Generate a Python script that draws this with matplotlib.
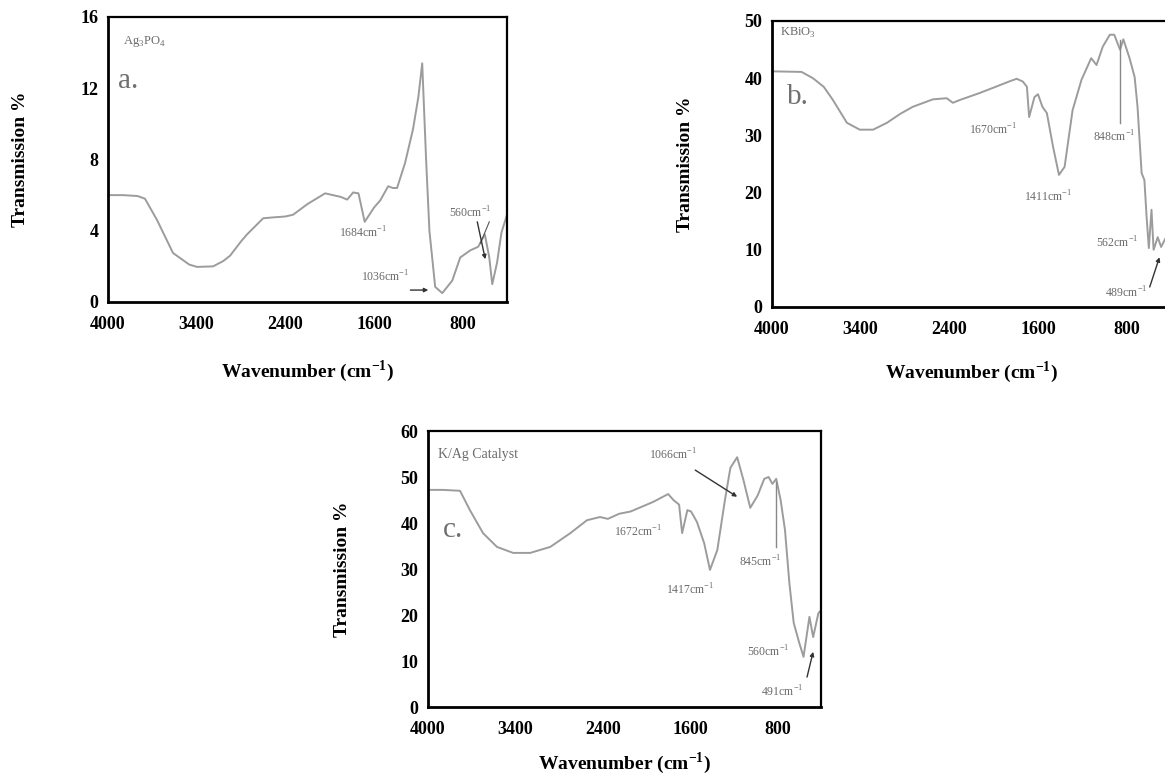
import matplotlib
matplotlib.use("Agg")
import matplotlib.pyplot as plt
import numpy as np

plt.rcParams["font.family"] = "Liberation Serif"
plt.rcParams["mathtext.fontset"] = "custom"
plt.rcParams["mathtext.rm"] = "Liberation Serif"
plt.rcParams["mathtext.bf"] = "Liberation Serif:bold"

W, H = 1165, 776

# the printed x axis is not linear: equally spaced tick labels
TICK_WN = [4000, 3400, 2400, 1600, 800]
SCALE_WN = [400, 800, 1600, 2400, 3400, 4000]
SCALE_POS = [0, 0.5, 1.5, 2.5, 3.5, 4.5]

# (a) Ag3PO4
wn_a = [4000, 3900, 3800, 3750, 3668, 3560, 3450, 3396, 3215, 3100, 3023, 2900,
        2831, 2650, 2538, 2400, 2330, 2200, 2041, 1900, 1842, 1788, 1740, 1684,
        1600, 1544, 1472, 1430, 1392, 1320, 1248, 1200, 1165, 1130, 1100, 1048,
        984, 894, 822, 731, 660, 600, 560, 533, 490, 450, 400]
t_a = [6.0, 6.0, 5.95, 5.8, 4.6, 2.75, 2.1, 1.97, 2.0, 2.3, 2.6, 3.4,
       3.8, 4.7, 4.75, 4.8, 4.9, 5.5, 6.1, 5.9, 5.75, 6.15, 6.1, 4.5,
       5.3, 5.7, 6.5, 6.4, 6.4, 7.8, 9.7, 11.5, 13.4, 8.0, 4.0, 0.85,
       0.5, 1.2, 2.5, 2.9, 3.1, 3.8, 2.5, 1.0, 2.2, 3.9, 4.9]

# (b) KBiO3
wn_b = [4000, 3800, 3723, 3650, 3588, 3493, 3406, 3260, 3104, 2950, 2812, 2586,
        2430, 2368, 2304, 2128, 2008, 1850, 1792, 1736, 1700, 1680, 1632, 1600,
        1560, 1520, 1464, 1411, 1360, 1288, 1208, 1120, 1072, 1016, 952, 912,
        860, 830, 774, 728, 702, 665, 640, 620, 600, 576, 557, 520, 489, 450, 400]
t_b = [41.2, 41.1, 40.0, 38.5, 36.2, 32.2, 31.0, 31.0, 32.2, 33.8, 35.0, 36.3,
       36.5, 35.7, 36.2, 37.4, 38.3, 39.5, 39.9, 39.4, 38.5, 33.2, 36.7, 37.2,
       35.0, 33.9, 28.0, 23.1, 24.5, 34.4, 39.7, 43.5, 42.3, 45.5, 47.6, 47.6,
       45.0, 46.8, 43.5, 40.2, 35.0, 23.4, 22.2, 15.7, 10.3, 17.0, 10.0, 12.2,
       10.5, 12.0, 13.0]

# (c) K/Ag catalyst
wn_c = [4000, 3900, 3780, 3712, 3622, 3526, 3415, 3230, 3000, 2770, 2580, 2430,
        2352, 2250, 2144, 1936, 1800, 1752, 1700, 1672, 1624, 1590, 1536, 1470,
        1417, 1350, 1280, 1230, 1168, 1110, 1048, 980, 920, 880, 845, 810, 770,
        730, 690, 650, 600, 560, 506, 472, 424, 400]
t_c = [47.2, 47.2, 47.0, 42.8, 37.8, 34.8, 33.5, 33.5, 34.8, 37.8, 40.6, 41.3,
       40.9, 42.0, 42.5, 44.6, 46.3, 45.0, 44.0, 37.8, 42.8, 42.5, 40.2, 35.6,
       29.8, 34.1, 45.0, 52.0, 54.3, 49.3, 43.3, 46.0, 49.6, 50.0, 48.5, 49.6,
       45.0, 38.5, 27.0, 18.3, 14.0, 10.9, 19.6, 15.2, 20.4, 21.0]

CURVE = "#9c9c9c"
NOTE = "#6a6a6a"


def fwd(w):
    return np.interp(w, SCALE_WN, SCALE_POS)


def inv(p):
    return np.interp(p, SCALE_POS, SCALE_WN)


def setup(ax, ymax, ystep, xlab_y, ylab_x):
    ax.set_xscale("function", functions=(fwd, inv))
    ax.set_xlim(4000, 400)
    ax.set_ylim(0, ymax)
    ax.set_xticks(TICK_WN)
    ax.set_xticklabels([str(v) for v in TICK_WN])
    ax.set_yticks(np.arange(0, ymax + 1, ystep))
    ax.tick_params(axis="both", length=0, labelsize=13)
    ax.tick_params(axis="x", pad=10)
    ax.tick_params(axis="y", pad=7)
    for lbl in ax.get_xticklabels() + ax.get_yticklabels():
        lbl.set_fontweight("bold")
    for side in ["left", "bottom"]:
        ax.spines[side].set_linewidth(2.0)
    for side in ["top", "right"]:
        ax.spines[side].set_linewidth(1.6)
    ax.set_xlabel(r"Wavenumber (cm$^{\mathbf{-1}}$)", fontsize=14, fontweight="bold")
    ax.set_ylabel("Transmission %", fontsize=14, fontweight="bold")
    ax.xaxis.set_label_coords(0.5, xlab_y)
    ax.yaxis.set_label_coords(ylab_x, 0.5)


def note(ax, txt, x, y, **kw):
    ax.text(x, y, txt, fontsize=8.5, color=NOTE, ha="center", va="center", **kw)


def arrow(ax, x0, y0, x1, y1):
    ax.annotate("", xy=(x1, y1), xytext=(x0, y0),
                arrowprops=dict(arrowstyle="-|>", color="#333333", lw=1.0,
                                mutation_scale=6, shrinkA=0, shrinkB=0))


fig = plt.figure(figsize=(W / 100, H / 100), dpi=100)
ax_a = fig.add_axes([108 / W, 1 - 302 / H, 399 / W, 285 / H])
ax_b = fig.add_axes([772 / W, 1 - 307 / H, 399 / W, 286 / H])
ax_c = fig.add_axes([428 / W, 1 - 707 / H, 393 / W, 276 / H])

# panel a
ax_a.plot(wn_a, t_a, color=CURVE, lw=1.4)
setup(ax_a, 16, 4, -0.196, -0.198)
ax_a.text(3898, 14.6, r"Ag$_3$PO$_4$", fontsize=9, color=NOTE, va="center")
ax_a.text(3935, 12.4, "a.", fontsize=21, color="#707070", va="center")
note(ax_a, "1684cm$^{-1}$", 1696, 3.9)
note(ax_a, "1036cm$^{-1}$", 1496, 1.4)
arrow(ax_a, 1272, 0.67, 1110, 0.67)
note(ax_a, "560cm$^{-1}$", 731, 5.0)
arrow(ax_a, 668, 4.5, 596, 2.4)
ax_a.plot([560, 640], [4.5, 3.3], color="#555555", lw=0.8)

# panel b
ax_b.plot(wn_b, t_b, color=CURVE, lw=1.4)
setup(ax_b, 50, 10, -0.182, -0.195)
ax_b.text(3946, 47.9, r"KBiO$_3$", fontsize=9, color=NOTE, va="center")
ax_b.text(3898, 36.7, "b.", fontsize=21, color="#707070", va="center")
note(ax_b, "1670cm$^{-1}$", 2008, 30.9)
note(ax_b, "1411cm$^{-1}$", 1512, 19.2)
note(ax_b, "848cm$^{-1}$", 908, 29.7)
ax_b.plot([864, 864], [32.2, 46.7], color="#888888", lw=1.0)
note(ax_b, "562cm$^{-1}$", 888, 11.2)
note(ax_b, "489cm$^{-1}$", 800, 2.4)
arrow(ax_b, 592, 3.5, 504, 8.7)

# panel c
ax_c.plot(wn_c, t_c, color=CURVE, lw=1.4)
setup(ax_c, 60, 10, -0.155, -0.196)
ax_c.text(3931, 54.8, "K/Ag Catalyst", fontsize=10, color=NOTE, va="center")
ax_c.text(3897, 38.5, "c.", fontsize=21, color="#707070", va="center")
note(ax_c, "1066cm$^{-1}$", 1752, 54.8)
arrow(ax_c, 1552, 51.5, 1168, 45.7)
note(ax_c, "1672cm$^{-1}$", 2074, 38.0)
note(ax_c, "1417cm$^{-1}$", 1600, 25.4)
note(ax_c, "845cm$^{-1}$", 960, 31.5)
ax_c.plot([816, 816], [34.8, 49.0], color="#888888", lw=1.0)
note(ax_c, "560cm$^{-1}$", 880, 12.0)
note(ax_c, "491cm$^{-1}$", 752, 3.3)
arrow(ax_c, 528, 6.5, 472, 12.0)

fig.savefig("out.png", dpi=100)
